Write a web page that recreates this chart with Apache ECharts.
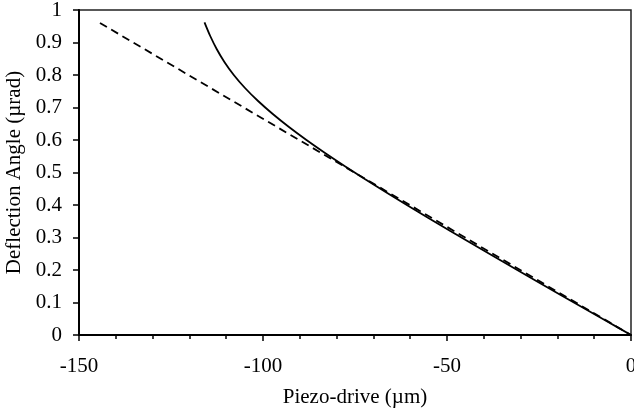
<!DOCTYPE html>
<html>
<head>
<meta charset="utf-8">
<script src="https://cdn.jsdelivr.net/npm/echarts@6/dist/echarts.min.js"></script>
<style>
html,body{margin:0;padding:0;background:#fff;}
#chart{width:634px;height:418px;}
</style>
</head>
<body>
<div id="chart"></div>
<script>
// Solid curve: [piezo-drive (µm), deflection angle (µrad)]
const solidCurve = [
  [-115.9, 0.962], [-114.34, 0.92], [-112.59, 0.88], [-110.49, 0.84],
  [-107.94, 0.80], [-104.89, 0.76], [-101.34, 0.72], [-97.34, 0.68],
  [-92.94, 0.64], [-88.19, 0.60], [-83.14, 0.56], [-77.84, 0.52],
  [-72.34, 0.48], [-66.68, 0.44], [-60.92, 0.40], [-55.06, 0.36],
  [-49.10, 0.32], [-43.06, 0.28], [-37.0, 0.24], [-30.91, 0.20],
  [-24.8, 0.16], [-18.64, 0.12], [-12.42, 0.08], [-6.21, 0.04], [0, 0]
];
// Dashed straight line
const dashedLine = [[-144.3, 0.96], [0, 0]];
const xTicks = [-150, -100, -50, 0];
const yTicks = [0, 0.1, 0.2, 0.3, 0.4, 0.5, 0.6, 0.7, 0.8, 0.9, 1];

const font = '"Liberation Serif", "Times New Roman", serif';
const chart = echarts.init(document.getElementById('chart'), null, {renderer: 'canvas'});
chart.setOption({
  animation: false,
  backgroundColor: '#fff',
  grid: {left: 79, right: 3, top: 10, bottom: 83, containLabel: false, outerBoundsMode: 'none',
         show: true, borderColor: '#222', borderWidth: 1.5, backgroundColor: 'transparent'},
  xAxis: {
    type: 'value', min: xTicks[0], max: xTicks[xTicks.length - 1], interval: 50,
    name: 'Piezo-drive (µm)', nameLocation: 'middle', nameGap: 52,
    nameTextStyle: {fontFamily: font, fontSize: 21, color: '#000'},
    axisLine: {show: true, onZero: false, lineStyle: {color: '#000', width: 2}},
    axisTick: {show: true, inside: false, length: 6, lineStyle: {color: '#000', width: 1.5}},
    minorTick: {show: true, splitNumber: 5, length: 4, lineStyle: {color: '#000', width: 1.5}},
    axisLabel: {fontFamily: font, fontSize: 21, color: '#000', margin: 21, showMaxLabel: true, showMinLabel: true},
    splitLine: {show: false}
  },
  yAxis: {
    type: 'value', min: yTicks[0], max: yTicks[yTicks.length - 1], interval: 0.1,
    name: 'Deflection Angle (µrad)', nameLocation: 'middle', nameGap: 54, nameRotate: 90,
    nameTextStyle: {fontFamily: font, fontSize: 21, color: '#000'},
    axisLine: {show: true, onZero: false, lineStyle: {color: '#000', width: 2}},
    axisTick: {show: true, inside: false, length: 6, lineStyle: {color: '#000', width: 1.5}},
    axisLabel: {fontFamily: font, fontSize: 21, color: '#000', margin: 17,
      formatter: v => String(Math.round(v * 10) / 10)},
    splitLine: {show: false}
  },
  series: [
    {type: 'line', data: solidCurve, showSymbol: false, smooth: 0.3, clip: false,
     lineStyle: {color: '#000', width: 1.8}},
    {type: 'line', data: dashedLine, showSymbol: false, clip: false,
     lineStyle: {color: '#000', width: 1.8, type: [8, 5]}}
  ]
});
</script>
</body>
</html>
